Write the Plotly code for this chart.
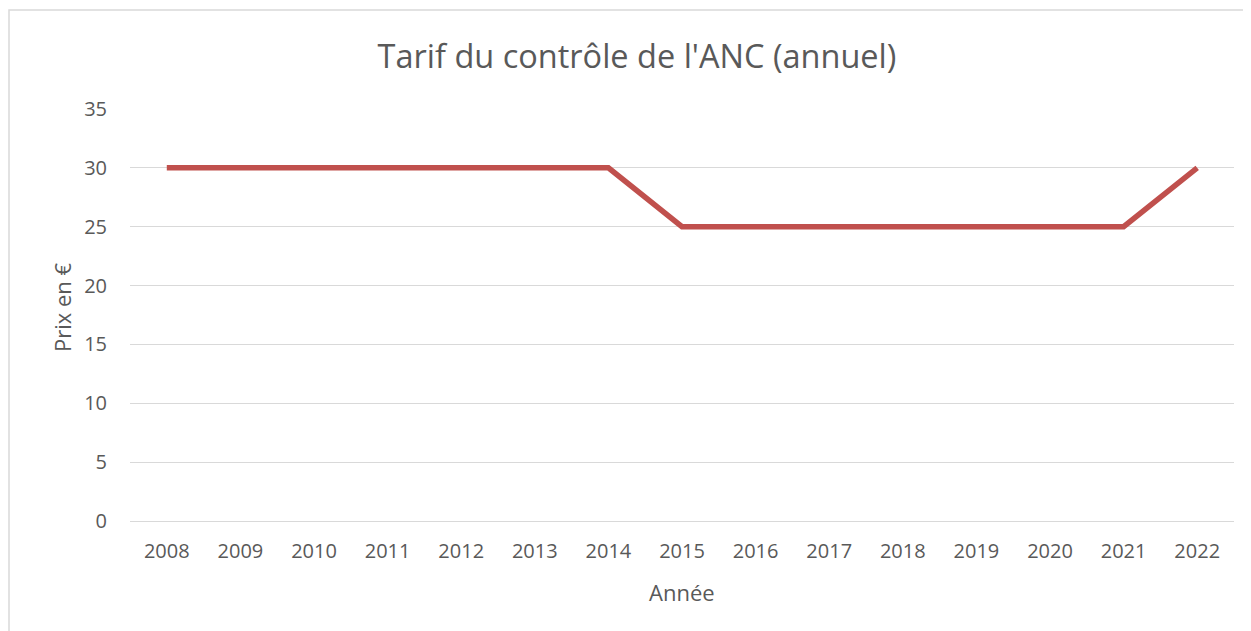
import plotly.graph_objects as go

years = ["2008", "2009", "2010", "2011", "2012", "2013", "2014", "2015",
         "2016", "2017", "2018", "2019", "2020", "2021", "2022"]
prices = [30, 30, 30, 30, 30, 30, 30, 25, 25, 25, 25, 25, 25, 25, 30]
y_ticks = [0, 5, 10, 15, 20, 25, 30, 35]

FONT = "Open Sans"
GREY = "#595959"

fig = go.Figure()
fig.add_trace(go.Scatter(
    x=years, y=prices, mode="lines",
    line=dict(color="#C0504D", width=5.5),
    hoverinfo="x+y",
))

# page has an 8px body margin; figure coords = page coords - 8
W, H = 1243, 623
L, R, T, B = 122, 17, 101, 110
pw = W - L - R
ph = H - T - B

fig.update_layout(
    width=W, height=H,
    margin=dict(l=L, r=R, t=T, b=B),
    paper_bgcolor="white", plot_bgcolor="white",
    showlegend=False,
    title=dict(text="Tarif du contrôle de l'ANC (annuel)",
               x=(637 - 8) / W, xref="container", xanchor="center",
               y=1 - 49 / H, yref="container", yanchor="middle",
               font=dict(family=FONT, size=32.5, color=GREY)),
    font=dict(family=FONT, color=GREY),
    xaxis=dict(type="category", range=[-0.5, len(years) - 0.5],
               showgrid=False, showline=False, ticks="",
               ticklabelstandoff=16,
               tickfont=dict(size=20, color=GREY),
               fixedrange=True),
    yaxis=dict(range=[0, 35], tickvals=y_ticks,
               showgrid=True, gridcolor="#d9d9d9", gridwidth=1,
               zeroline=True, zerolinecolor="#d9d9d9", zerolinewidth=1,
               showline=False, ticks="", ticklabelstandoff=22,
               tickfont=dict(size=20, color=GREY),
               fixedrange=True),
    annotations=[
        dict(text="Année", xref="paper", yref="paper",
             x=(674 - L) / pw, y=(H - B - 584) / ph,
             xanchor="center", yanchor="middle", showarrow=False,
             font=dict(family=FONT, size=22, color=GREY)),
        dict(text="Prix en €", xref="paper", yref="paper",
             x=(54 - L) / pw, y=(H - B - 299) / ph, textangle=-90,
             xanchor="center", yanchor="middle", showarrow=False,
             font=dict(family=FONT, size=22, color=GREY)),
    ],
    shapes=[dict(type="rect", xref="paper", yref="paper",
                 x0=(1 - L) / pw, x1=1.5,
                 y0=-0.6, y1=(H - B - 2) / ph,
                 line=dict(color="#d9d9d9", width=1.5),
                 fillcolor="rgba(0,0,0,0)", layer="below")],
)

fig.write_html("out.html")
